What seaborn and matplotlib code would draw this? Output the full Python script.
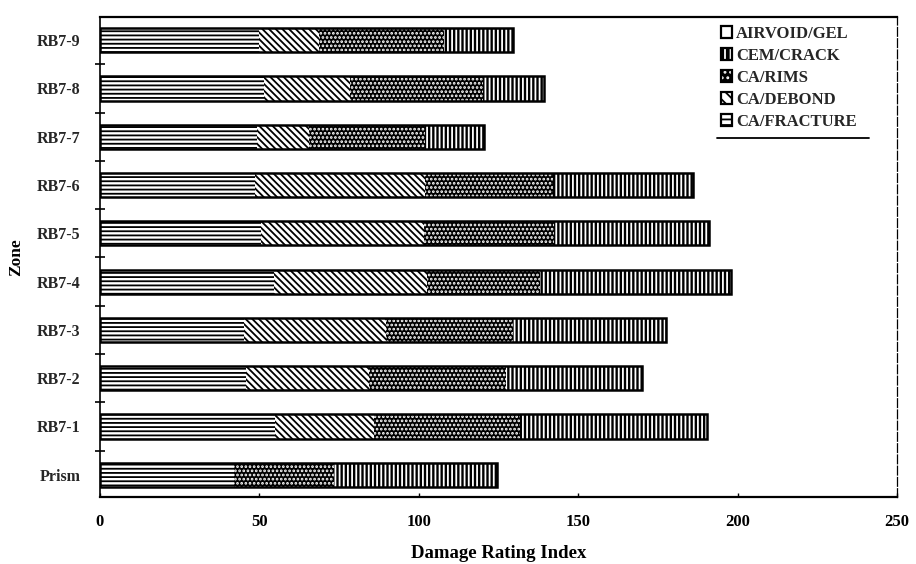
import matplotlib
matplotlib.use("Agg")
import matplotlib.pyplot as plt
from matplotlib.patches import Patch
from matplotlib.lines import Line2D
from matplotlib.legend_handler import HandlerTuple
import seaborn as sns
import pandas as pd
import numpy as np

# Damage Rating Index contributions per zone (top row first)
zones = ["RB7-9", "RB7-8", "RB7-7", "RB7-6", "RB7-5",
         "RB7-4", "RB7-3", "RB7-2", "RB7-1", "Prism"]
ca_fracture = [49.8, 51.4, 49.2, 48.6, 50.5, 54.5, 45.2, 45.8, 54.8, 42.0]
ca_debond = [18.9, 26.9, 16.4, 53.4, 51.0, 48.0, 44.6, 38.7, 31.2, 0.0]
ca_rims = [39.3, 41.7, 36.4, 40.0, 40.9, 35.5, 39.7, 42.9, 45.6, 31.4]
cem_crack = [21.7, 19.3, 18.4, 44.0, 48.6, 60.0, 47.9, 42.6, 58.8, 51.1]
airvoid_gel = [0.0, 0.0, 0.0, 0.0, 0.0, 0.0, 0.0, 0.0, 0.0, 0.0]

x_ticks = [0, 50, 100, 150, 200, 250]

sns.set_theme(style="white")
plt.rcParams["font.family"] = ["Liberation Serif", "DejaVu Serif"]
plt.rcParams["hatch.linewidth"] = 1.3

df = pd.DataFrame({
    "Zone": zones,
    "CA/FRACTURE": ca_fracture,
    "CA/DEBOND": ca_debond,
    "CA/RIMS": ca_rims,
    "CEM/CRACK": cem_crack,
    "AIRVOID/GEL": airvoid_gel,
})

# stacking order from the axis outwards
stack = ["CA/FRACTURE", "CA/DEBOND", "CA/RIMS", "CEM/CRACK", "AIRVOID/GEL"]
styles = {
    "AIRVOID/GEL": dict(face="white", hatchc="black", hatch=""),
    "CEM/CRACK": dict(face="black", hatchc="white", hatch="||||"),
    "CA/RIMS": dict(face="black", hatchc="white", hatch="...."),
    "CA/DEBOND": dict(face="white", hatchc="black", hatch="\\\\\\\\\\"),
    "CA/FRACTURE": dict(face="white", hatchc="black", hatch="----"),
}

cum = df[stack].cumsum(axis=1)

fig = plt.figure(figsize=(9.16, 5.64), dpi=100)
ax = fig.add_axes([100 / 916, 67 / 564, 797 / 916, 480 / 564])

# draw cumulative bars from the outermost segment inwards so each layer
# overlays the one before it
for name in reversed(stack):
    st = styles[name]
    sns.barplot(x=cum[name].values, y=df["Zone"], order=zones, orient="h",
                color=st["face"], saturation=1, width=0.5, errorbar=None,
                linewidth=0, ax=ax)
    for p in ax.containers[-1]:
        p.set_facecolor(st["face"])
        p.set_edgecolor(st["hatchc"])
        p.set_linewidth(0)
        p.set_hatch(st["hatch"])

# black outline around each full bar
sns.barplot(x=cum["AIRVOID/GEL"].values, y=df["Zone"], order=zones,
            orient="h", color="black", width=0.5, errorbar=None, ax=ax)
for p in ax.containers[-1]:
    p.set_facecolor("none")
    p.set_edgecolor("black")
    p.set_linewidth(1.8)

ax.set_xlim(0, 250)
ax.set_ylim(9.46, -0.48)
ax.set_xticks(x_ticks)
ax.set_xticklabels([str(t) for t in x_ticks], fontsize=12, fontweight="bold")
ax.tick_params(axis="x", direction="in", length=3, width=1, pad=12,
               bottom=True, colors="black")
ax.tick_params(axis="y", length=0, pad=14, labelsize=11.5)
for lab in ax.get_yticklabels():
    lab.set_fontweight("bold")
ax.set_yticks(np.arange(0.5, len(zones) - 1, 1.0), minor=True)
ax.tick_params(axis="y", which="minor", direction="inout", length=7,
               width=1.2, left=True, color="black")

ax.set_xlabel("Damage Rating Index", fontsize=13.5, fontweight="bold",
              labelpad=11, color="black")
ax.set_ylabel("Zone", fontsize=12.5, fontweight="bold", color="black")
ax.yaxis.set_label_coords(-0.095, 0.5)

for side in ["left", "bottom", "top"]:
    ax.spines[side].set_visible(True)
    ax.spines[side].set_color("black")
ax.spines["left"].set_linewidth(1.2)
ax.spines["bottom"].set_linewidth(1.6)
ax.spines["top"].set_linewidth(1.6)
ax.spines["right"].set_color("black")
ax.spines["right"].set_linewidth(0.9)
ax.spines["right"].set_linestyle((0, (7, 2)))

legend_order = ["AIRVOID/GEL", "CEM/CRACK", "CA/RIMS", "CA/DEBOND", "CA/FRACTURE"]
legend_hatch = {"AIRVOID/GEL": "", "CEM/CRACK": "|||", "CA/RIMS": "...",
                "CA/DEBOND": "\\\\\\", "CA/FRACTURE": "---"}
handles = []
for n in legend_order:
    fill = Patch(facecolor=styles[n]["face"], edgecolor=styles[n]["hatchc"],
                 hatch=legend_hatch[n], linewidth=0)
    frame = Patch(facecolor="none", edgecolor="black", linewidth=1.6)
    handles.append((fill, frame))
leg = ax.legend(handles, legend_order, loc="upper left",
                bbox_to_anchor=(0.758, 1.017), frameon=False,
                prop={"size": 12, "weight": "bold"},
                handler_map={tuple: HandlerTuple(ndivide=1, pad=0)},
                handlelength=0.7, handleheight=0.7, handletextpad=0.2,
                labelspacing=0.36, borderpad=0.5)

# rules above and below the legend
fig.canvas.draw()
bb = leg.get_window_extent().transformed(fig.transFigure.inverted())
for yy in (bb.y0, bb.y1):
    fig.add_artist(Line2D([bb.x0 + 0.005, bb.x1 + 0.005], [yy, yy],
                          color="black", lw=1.3, transform=fig.transFigure))

fig.savefig("out.png", dpi=100, facecolor="white")
